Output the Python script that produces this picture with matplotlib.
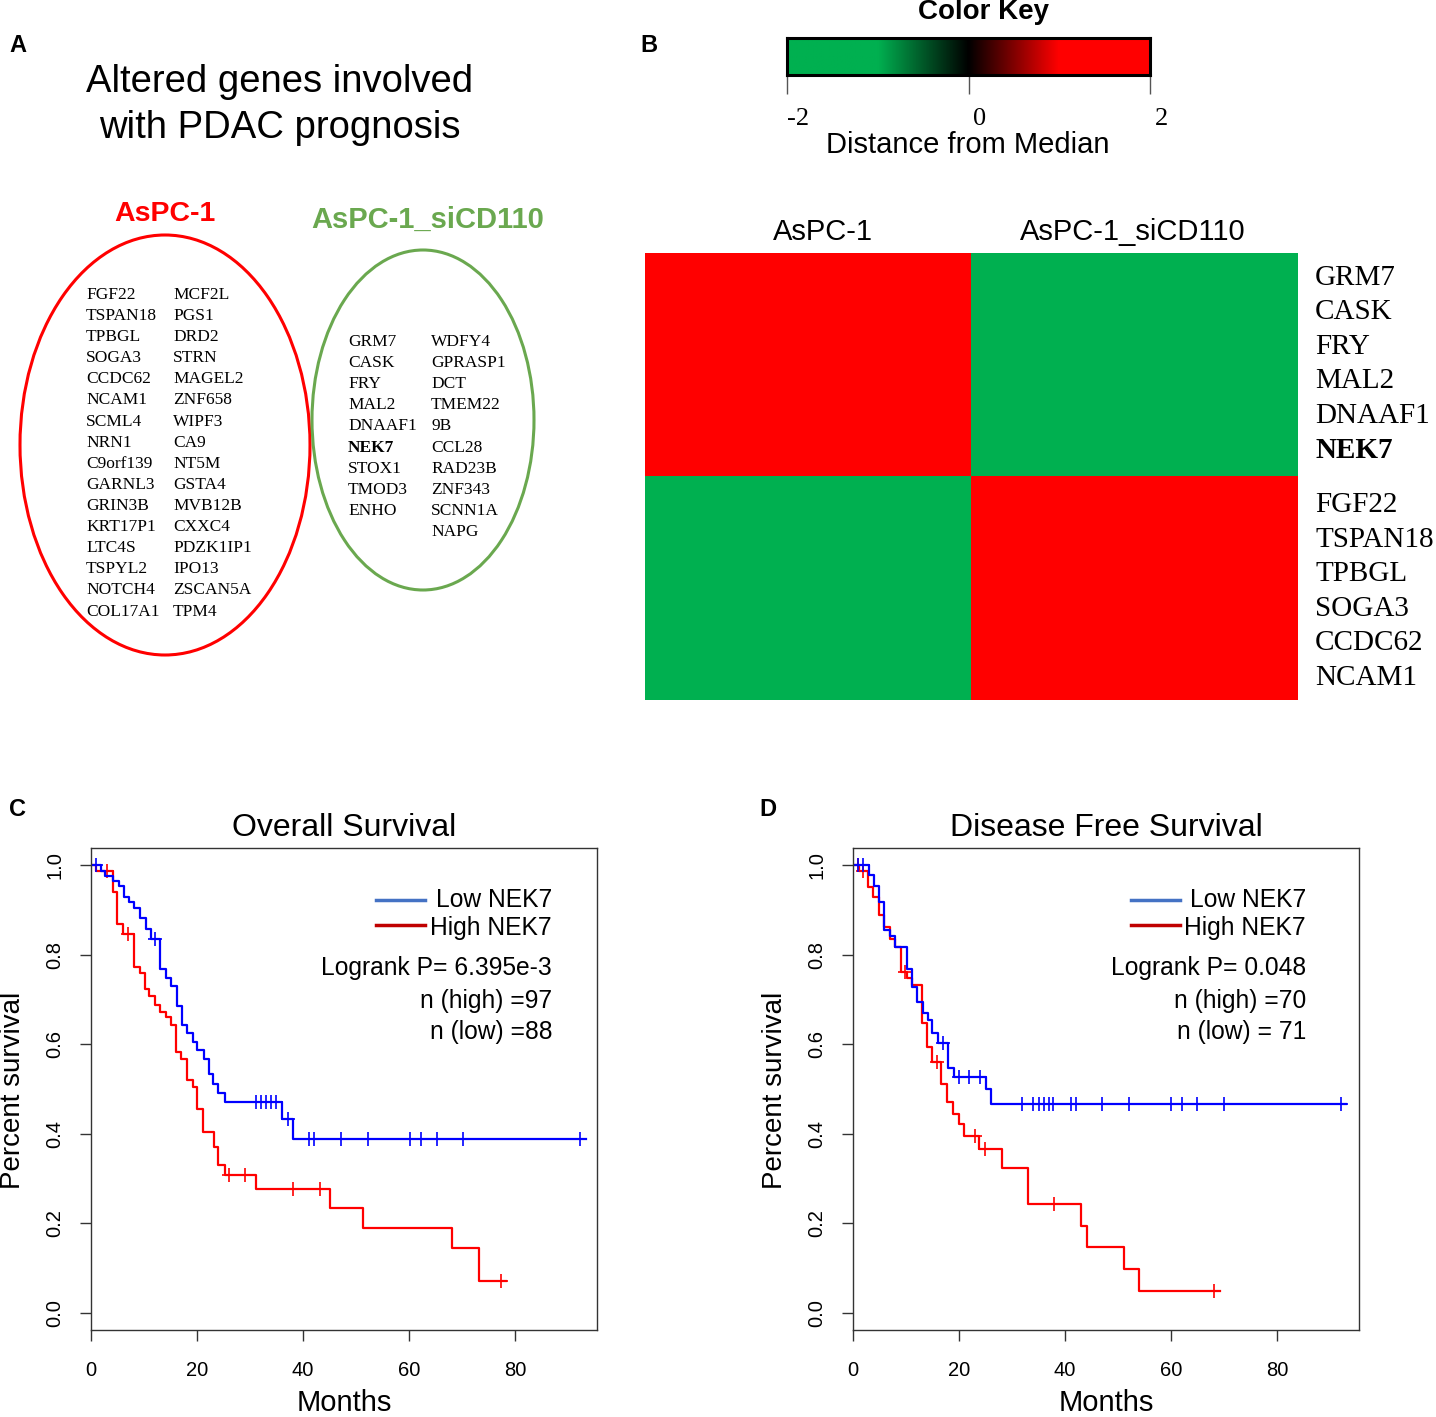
import numpy as np
import matplotlib
matplotlib.use("Agg")
import matplotlib.pyplot as plt
from matplotlib.patches import Ellipse
from matplotlib.lines import Line2D
from matplotlib.colors import LinearSegmentedColormap
from matplotlib.transforms import ScaledTranslation

# ---------------- data ----------------
aspc1_genes_col1 = ["FGF22", "TSPAN18", "TPBGL", "SOGA3", "CCDC62", "NCAM1", "SCML4", "NRN1",
                    "C9orf139", "GARNL3", "GRIN3B", "KRT17P1", "LTC4S", "TSPYL2", "NOTCH4", "COL17A1"]
aspc1_genes_col2 = ["MCF2L", "PGS1", "DRD2", "STRN", "MAGEL2", "ZNF658", "WIPF3", "CA9",
                    "NT5M", "GSTA4", "MVB12B", "CXXC4", "PDZK1IP1", "IPO13", "ZSCAN5A", "TPM4"]
si_genes_col1 = ["GRM7", "CASK", "FRY", "MAL2", "DNAAF1", "NEK7", "STOX1", "TMOD3", "ENHO"]
si_genes_col2 = ["WDFY4", "GPRASP1", "DCT", "TMEM22", "9B", "CCL28", "RAD23B", "ZNF343", "SCNN1A", "NAPG"]

heat_columns = ["AsPC-1", "AsPC-1_siCD110"]
heat_rows_top = ["GRM7", "CASK", "FRY", "MAL2", "DNAAF1", "NEK7"]
heat_rows_bottom = ["FGF22", "TSPAN18", "TPBGL", "SOGA3", "CCDC62", "NCAM1"]
heat_values = [[2.0, -2.0],
               [-2.0, 2.0]]
key_ticks = [-2, 0, 2]

# Overall survival
os_low_t = [0, 1.8, 2.6, 4.1, 5.2, 6.2, 7.2, 8.2, 9.3, 10.3, 11.3, 13.1, 14.2, 15.1, 16.2,
            17.1, 18.1, 19.2, 20.1, 21.3, 22.2, 23.1, 24.0, 25.2, 36.0, 38.1]
os_low_s = [1.0, 0.987, 0.975, 0.965, 0.953, 0.929, 0.918, 0.905, 0.881, 0.857, 0.834, 0.769,
            0.747, 0.730, 0.685, 0.643, 0.624, 0.605, 0.587, 0.568, 0.533, 0.512, 0.491, 0.471,
            0.434, 0.389]
os_low_end = 93.4
os_low_cens = [0.9, 12.1, 31.1, 32.1, 33.0, 34.0, 34.9, 37.1, 41.2, 42.0, 47.2, 52.2, 60.3,
               62.3, 65.3, 70.3, 92.3]
os_high_t = [0, 0.9, 4.1, 5.0, 6.0, 8.1, 9.3, 10.1, 11.0, 12.0, 13.1, 14.2, 15.1, 16.0, 17.0,
             18.2, 19.2, 20.1, 21.1, 23.3, 24.0, 25.2, 31.1, 45.2, 51.3, 68.2, 73.3]
os_high_s = [1.0, 0.987, 0.940, 0.868, 0.847, 0.773, 0.759, 0.724, 0.707, 0.687, 0.672, 0.661,
             0.643, 0.583, 0.568, 0.520, 0.505, 0.456, 0.404, 0.371, 0.330, 0.308, 0.276, 0.235,
             0.190, 0.144, 0.071]
os_high_end = 78.3
os_high_cens = [3.1, 6.9, 26.1, 29.1, 38.2, 43.2, 77.4]

# Disease free survival
dfs_low_t = [0, 3.1, 4.0, 5.0, 5.9, 7.0, 7.9, 10.1, 11.1, 12.0, 13.3, 14.2, 15.0, 16.0, 18.0,
             19.1, 25.1, 26.0]
dfs_low_s = [1.0, 0.978, 0.953, 0.918, 0.856, 0.841, 0.818, 0.767, 0.728, 0.695, 0.670, 0.654,
             0.624, 0.603, 0.546, 0.526, 0.499, 0.466]
dfs_low_end = 93.1
dfs_low_cens = [1.0, 1.9, 17.0, 20.0, 21.9, 24.0, 31.9, 34.0, 35.1, 36.0, 37.0, 37.8, 41.1,
                42.0, 47.0, 52.0, 60.0, 62.0, 65.0, 70.0, 92.1]
dfs_high_t = [0, 1.2, 2.9, 3.8, 5.0, 5.9, 7.0, 7.9, 9.0, 10.1, 11.2, 13.0, 14.0, 15.0, 16.7,
              17.8, 18.9, 20.0, 20.9, 23.8, 28.1, 33.1, 43.0, 44.1, 51.1, 54.0]
dfs_high_s = [1.0, 0.987, 0.952, 0.929, 0.888, 0.861, 0.834, 0.818, 0.762, 0.748, 0.733, 0.648,
              0.594, 0.561, 0.512, 0.471, 0.445, 0.421, 0.395, 0.365, 0.323, 0.243, 0.195, 0.147,
              0.099, 0.049]
dfs_high_end = 69.2
dfs_high_cens = [1.0, 1.9, 9.8, 15.8, 23.0, 24.9, 38.0, 68.1]

x_ticks = [0, 20, 40, 60, 80]
y_ticks = [0.0, 0.2, 0.4, 0.6, 0.8, 1.0]

# ---------------- layout helpers ----------------
W, H = 1436, 1417
SANS = "Liberation Sans"
SERIF = "Liberation Serif"
RED = "#ff0000"
GREEN_HM = "#00b050"
GREEN_A = "#6aa84f"

fig = plt.figure(figsize=(W / 100, H / 100), dpi=100)


def rect(x0, y0, x1, y1):
    return [x0 / W, 1 - y1 / H, (x1 - x0) / W, (y1 - y0) / H]


def ftext(x, y, s, **kw):
    fig.text(x / W, 1 - y / H, s, **kw)


# panel letters
for letter, (lx, ly) in {"A": (18, 45), "B": (649, 45), "C": (18, 810), "D": (768, 810)}.items():
    ftext(lx, ly, letter, family=SANS, weight="bold", fontsize=17, ha="center", va="center")

# ---------------- Panel A ----------------
axA = fig.add_axes(rect(0, 0, 640, 700))
axA.set_xlim(0, 640)
axA.set_ylim(700, 0)
axA.axis("off")
axA.text(280, 82, "Altered genes involved", family=SANS, fontsize=27.5, ha="center", va="center")
axA.text(280, 128, "with PDAC prognosis", family=SANS, fontsize=27.5, ha="center", va="center")
axA.text(165, 214, "AsPC-1", family=SANS, weight="bold", fontsize=20.5, color=RED, ha="center", va="center")
axA.text(428, 220, "AsPC-1_siCD110", family=SANS, weight="bold", fontsize=21, color=GREEN_A,
         ha="center", va="center")
axA.add_patch(Ellipse((165, 445), 290, 420, fill=False, ec=RED, lw=2.2))
axA.add_patch(Ellipse((423, 420), 222, 340, fill=False, ec=GREEN_A, lw=2.2))
GFS = 12.5
for i, g in enumerate(aspc1_genes_col1):
    axA.text(86, 295 + i * 21.1, g, family=SERIF, fontsize=GFS, ha="left", va="center")
for i, g in enumerate(aspc1_genes_col2):
    axA.text(173, 295 + i * 21.1, g, family=SERIF, fontsize=GFS, ha="left", va="center")
for i, g in enumerate(si_genes_col1):
    axA.text(348, 342 + i * 21.1, g, family=SERIF, fontsize=GFS, ha="left", va="center",
             weight="bold" if g == "NEK7" else "normal")
for i, g in enumerate(si_genes_col2):
    axA.text(431, 342 + i * 21.1, g, family=SERIF, fontsize=GFS, ha="left", va="center")

# ---------------- Panel B ----------------
cmap = LinearSegmentedColormap.from_list(
    "gk", [(0.0, GREEN_HM), (0.25, GREEN_HM), (0.5, "#000000"), (0.75, RED), (1.0, RED)])

axK = fig.add_axes(rect(787, 38, 1150, 75))
axK.imshow(np.linspace(-2, 2, 512)[None, :], cmap=cmap, vmin=-2, vmax=2, aspect="auto",
           extent=[-2, 2, 0, 1])
axK.set_xlim(-2, 2)
axK.set_yticks([])
axK.set_xticks(key_ticks)
axK.set_xticklabels([str(t) for t in key_ticks], family=SERIF, fontsize=19)
axK.tick_params(axis="x", length=14, width=1, color="#555555", pad=10)
shift = ScaledTranslation(11 / 100, 0, fig.dpi_scale_trans)
for lab in axK.get_xticklabels():
    lab.set_transform(lab.get_transform() + shift)
for sp in axK.spines.values():
    sp.set_linewidth(2.2)
ftext(983, 12, "Color Key", family=SANS, weight="bold", fontsize=20, ha="center", va="center")
ftext(968, 145, "Distance from Median", family=SANS, fontsize=21, ha="center", va="center")

axH = fig.add_axes(rect(645, 253, 1298, 700))
axH.imshow(np.array(heat_values), cmap=cmap, vmin=-2, vmax=2, aspect="auto",
           interpolation="nearest")
axH.set_xticks([])
axH.set_yticks([])
for sp in axH.spines.values():
    sp.set_visible(False)
for j, c in enumerate(heat_columns):
    ftext([823, 1133][j], 232, c, family=SANS, fontsize=21, ha="center", va="center")
for i, g in enumerate(heat_rows_top):
    ftext(1315, 278 + i * 34.4, g, family=SERIF, fontsize=21, ha="left", va="center",
          weight="bold" if g == "NEK7" else "normal")
for i, g in enumerate(heat_rows_bottom):
    ftext(1315, 505 + i * 34.6, g, family=SERIF, fontsize=21, ha="left", va="center")


# ---------------- Panels C & D ----------------
def km(ax, t, s, tend, cens, color):
    t = np.asarray(t, float)
    s = np.asarray(s, float)
    ax.step(np.append(t, tend), np.append(s, s[-1]), where="post", color=color, lw=1.6)
    idx = np.searchsorted(t, cens, side="right") - 1
    ax.plot(cens, s[idx], ls="none", marker="+", ms=10, mew=1.2, color=color)


def km_panel(box, title, low, high, pval, nhigh, nlow, leg_x0, leg_x1, txt_x):
    x0, y0, x1, y1 = box
    ax = fig.add_axes(rect(x0, y0, x1, y1))
    km(ax, *high, RED)
    km(ax, *low, "#0000ff")
    ax.set_xlim(0, 95.5)
    ax.set_ylim(-0.038, 1.038)
    ax.set_xticks(x_ticks)
    ax.set_yticks(y_ticks)
    ax.set_xticklabels([str(v) for v in x_ticks], family=SANS, fontsize=14.5)
    ax.set_yticklabels([f"{v:.1f}" for v in y_ticks], family=SANS, fontsize=14.5, rotation=90,
                       va="center")
    ax.tick_params(axis="x", length=8, width=1, color="#333333", pad=14)
    ax.tick_params(axis="y", length=8, width=1, color="#333333", pad=11)
    for sp in ax.spines.values():
        sp.set_linewidth(1.0)
        sp.set_color("#333333")
    xc = (x0 + x1) / 2
    ftext(xc, 828, title, family=SANS, fontsize=23, ha="center", va="center")
    ftext(xc, 1403, "Months", family=SANS, fontsize=21, ha="center", va="center")
    ftext(x0 - 78, 1090, "Percent survival", family=SANS, fontsize=20, ha="center",
          va="center", rotation=90)
    fig.add_artist(Line2D([leg_x0 / W, leg_x1 / W], [1 - 900 / H] * 2, color="#4472c4", lw=2.5))
    fig.add_artist(Line2D([leg_x0 / W, leg_x1 / W], [1 - 925 / H] * 2, color="#c00000", lw=2.5))
    LFS = 17.7
    ftext(txt_x, 900, "Low NEK7", family=SANS, fontsize=LFS, ha="right", va="center")
    ftext(txt_x, 928, "High NEK7", family=SANS, fontsize=LFS, ha="right", va="center")
    ftext(txt_x, 968, pval, family=SANS, fontsize=LFS, ha="right", va="center")
    ftext(txt_x, 1001, nhigh, family=SANS, fontsize=LFS, ha="right", va="center")
    ftext(txt_x, 1032, nlow, family=SANS, fontsize=LFS, ha="right", va="center")
    return ax


km_panel((91, 848, 597, 1330), "Overall Survival",
         (os_low_t, os_low_s, os_low_end, os_low_cens),
         (os_high_t, os_high_s, os_high_end, os_high_cens),
         "Logrank P= 6.395e-3", "n (high) =97", "n (low) =88", 376, 425, 552)
km_panel((853, 848, 1359, 1330), "Disease Free Survival",
         (dfs_low_t, dfs_low_s, dfs_low_end, dfs_low_cens),
         (dfs_high_t, dfs_high_s, dfs_high_end, dfs_high_cens),
         "Logrank P= 0.048", "n (high) =70", "n (low) = 71", 1131, 1180, 1306)

fig.savefig("out.png", dpi=100)
